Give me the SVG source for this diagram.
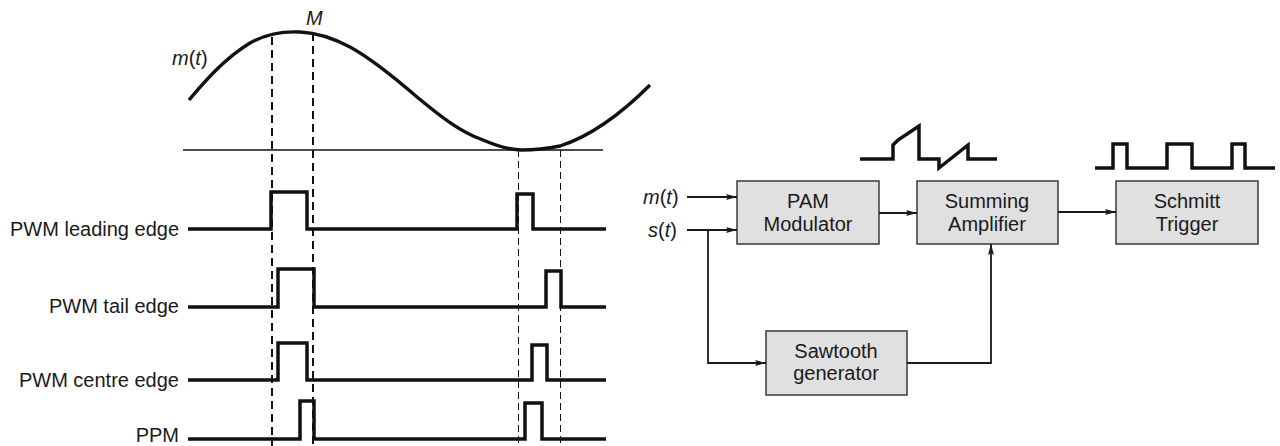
<svg xmlns="http://www.w3.org/2000/svg" width="1280" height="446" viewBox="0 0 1280 446">
<style>
.t{font-family:"Liberation Sans",Arial,sans-serif;font-size:20px;fill:#1a1a1a}
.it{font-style:italic}
.wave{fill:none;stroke:#111;stroke-width:3.5;stroke-linejoin:miter}
.box{fill:#e0e0e0;stroke:#3a3a3a;stroke-width:1.5}
.conn{fill:none;stroke:#1a1a1a;stroke-width:1.8}
.dashA{stroke:#111;stroke-width:2;stroke-dasharray:8,5;fill:none}
.dashB{stroke:#111;stroke-width:1;stroke-dasharray:7,4;fill:none}
</style>
<defs>
<marker id="arr" markerUnits="userSpaceOnUse" markerWidth="12" markerHeight="8" refX="11" refY="4" orient="auto">
<path d="M0,1 L11,4 L0,7 L2,4 Z" fill="#1a1a1a"/>
</marker>
</defs>
<rect width="1280" height="446" fill="#fff"/>

<g id="timing">
<path d="M189,100 C201,86 222,60 250,43 C266,34 282,31 300,32 C320,33 335,39 350,47 C372,59 395,78 417,97 C440,116 460,132 483,140 C497,146 510,150 522,150 C535,150 550,148 560,146 C585,138 615,120 650,85" fill="none" stroke="#111" stroke-width="3.4"/>
<line x1="183" y1="150" x2="603" y2="150" stroke="#111" stroke-width="1.3"/>
<line class="dashA" x1="272" y1="37" x2="272" y2="446"/>
<line class="dashA" x1="313" y1="33" x2="313" y2="446"/>
<line class="dashB" x1="518.5" y1="150" x2="518.5" y2="446"/>
<line class="dashB" x1="560.5" y1="150" x2="560.5" y2="446"/>
<text class="t it" x="306" y="25">M</text>
<text class="t" x="172" y="65"><tspan class="it">m</tspan>(<tspan class="it">t</tspan>)</text>
<path class="wave" d="M188,229 H271 V192 H307 V229 H517 V194 H533 V229 H606"/>
<path class="wave" d="M188,307 H278 V269 H314 V307 H546 V271 H561 V307 H606"/>
<path class="wave" d="M188,380 H278 V343 H307 V380 H532 V345 H547 V380 H606"/>
<path class="wave" d="M188,439 H300 V401 H314 V439 H525 V403 H542 V439 H606"/>
<text class="t" x="179" y="236" text-anchor="end">PWM leading edge</text>
<text class="t" x="179" y="313" text-anchor="end">PWM tail edge</text>
<text class="t" x="179" y="387" text-anchor="end">PWM centre edge</text>
<text class="t" x="179" y="442" text-anchor="end">PPM</text>
</g>

<g id="pam">
<rect class="box" x="737" y="181" width="142" height="63"/>
<text class="t" x="808" y="208" text-anchor="middle">PAM</text>
<text class="t" x="808" y="231" text-anchor="middle">Modulator</text>
</g>
<g id="summing">
<rect class="box" x="917" y="181" width="141" height="63"/>
<text class="t" x="987" y="208" text-anchor="middle">Summing</text>
<text class="t" x="987" y="231" text-anchor="middle">Amplifier</text>
</g>
<g id="schmitt">
<rect class="box" x="1116" y="181" width="142" height="63"/>
<text class="t" x="1187" y="208" text-anchor="middle">Schmitt</text>
<text class="t" x="1187" y="231" text-anchor="middle">Trigger</text>
</g>
<g id="sawtooth">
<rect class="box" x="766" y="331" width="141" height="64"/>
<text class="t" x="836" y="358" text-anchor="middle">Sawtooth</text>
<text class="t" x="836" y="380" text-anchor="middle">generator</text>
</g>
<g id="inputs">
<text class="t" x="643" y="204"><tspan class="it">m</tspan>(<tspan class="it">t</tspan>)</text>
<text class="t" x="648" y="237"><tspan class="it">s</tspan>(<tspan class="it">t</tspan>)</text>
</g>
<g id="waveforms">
<path class="wave" d="M860,159 H893 V145 L898,140 L919,126 V159 H939 V168 L968,145 V159 H997"/>
<path class="wave" d="M1095,168 H1113 V144 H1127 V168 H1167 V144 H1192 V168 H1232 V144 H1245 V168 H1275"/>
</g>

<g id="connectors">
<line class="conn" x1="687" y1="197" x2="737" y2="197" marker-end="url(#arr)"/>
<line class="conn" x1="687" y1="230" x2="737" y2="230" stroke-width="2.6" marker-end="url(#arr)"/>
<path class="conn" d="M708,230 V363 H766" marker-end="url(#arr)"/>
<line class="conn" x1="879" y1="213" x2="917" y2="213" marker-end="url(#arr)"/>
<line class="conn" x1="1058" y1="212" x2="1116" y2="212" marker-end="url(#arr)"/>
<path class="conn" d="M907,363 H991 V244" marker-end="url(#arr)"/>
</g>
</svg>
